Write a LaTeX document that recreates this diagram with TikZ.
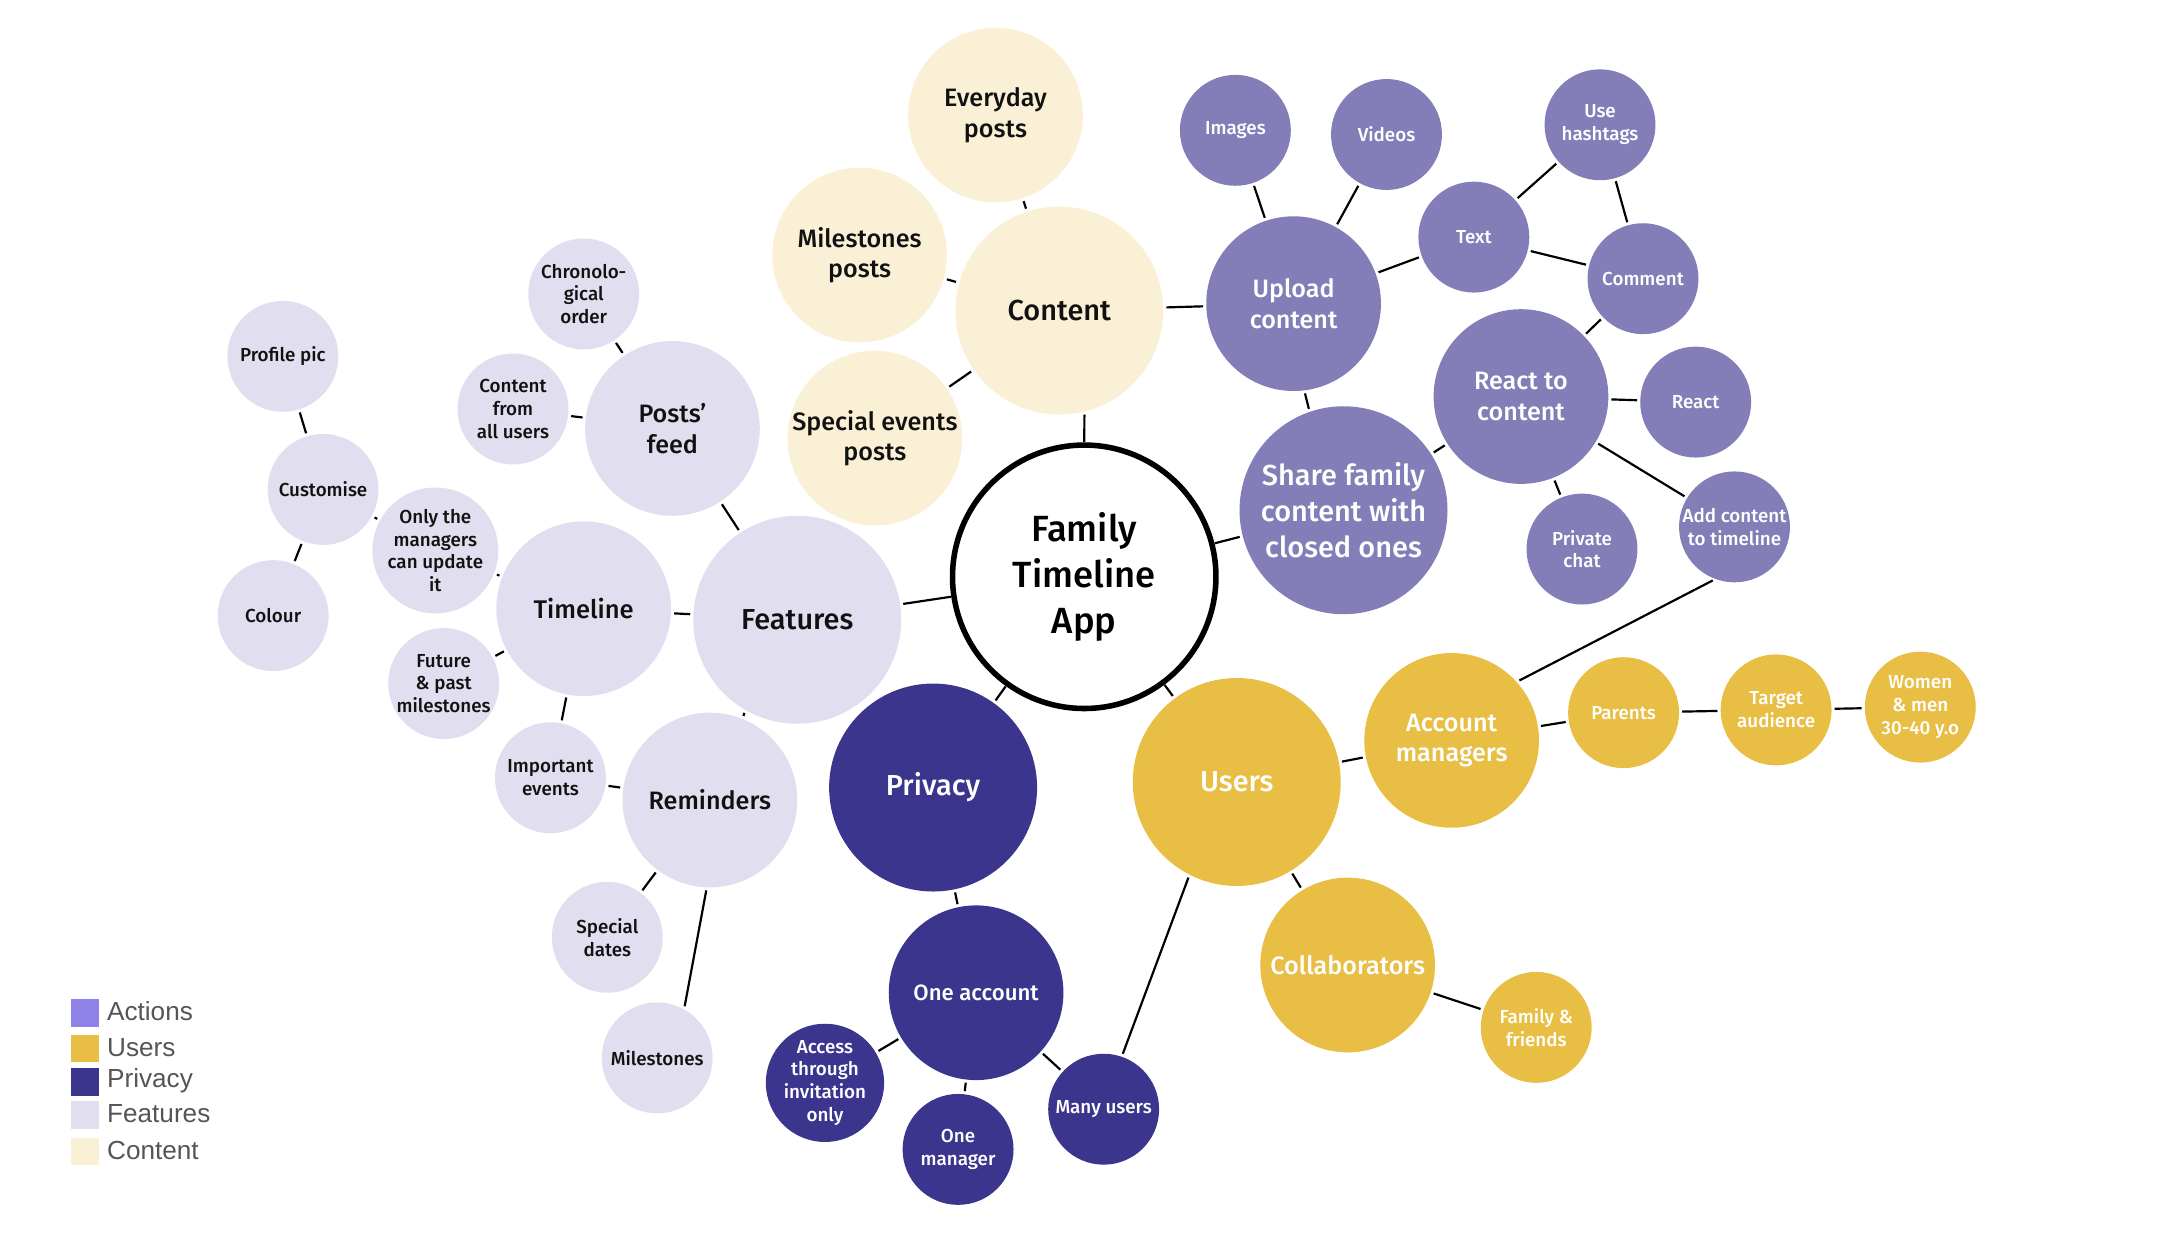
\documentclass[tikz,border=0pt]{standalone}
\usepackage{fontspec}
\setmainfont{Fira Sans}[UprightFont={* Medium}]
\newfontfamily\legfont{Liberation Sans}
\definecolor{actc}{HTML}{837EB7}
\definecolor{actleg}{HTML}{8F82E9}
\definecolor{usrc}{HTML}{E8BE45}
\definecolor{prvc}{HTML}{3C358D}
\definecolor{feac}{HTML}{E0DEEF}
\definecolor{conc}{HTML}{FAF0D5}
\definecolor{legtxt}{HTML}{555555}
\definecolor{darktxt}{HTML}{111111}
\tikzset{
  bub/.style={circle, inner sep=0pt, outer sep=0pt, align=center},
  rs/.style={bub, minimum size=56pt, font=\fontsize{9.5}{11.5}\selectfont},
  rm/.style={bub, minimum size=88.2pt, font=\fontsize{12.7}{15.4}\selectfont},
  rl/.style={bub, minimum size=105pt, font=\fontsize{14.6}{18.2}\selectfont},
  act/.style={fill=actc, text=white},
  usr/.style={fill=usrc, text=white},
  prv/.style={fill=prvc, text=white},
  fea/.style={fill=feac, text=darktxt},
  con/.style={fill=conc, text=darktxt},
  conn/.style={draw=black, line width=1.1pt, shorten <=1.6pt, shorten >=1.6pt},
  swatch/.style={rectangle, inner sep=0pt, outer sep=0pt, minimum size=14pt},
  legtext/.style={anchor=west, inner sep=0pt, font=\legfont\fontsize{13.2}{16}\selectfont, text=legtxt}
}
\begin{document}
\begin{tikzpicture}[x=0.7pt,y=-0.7pt]
\path[use as bounding box] (0,0) rectangle (1568,906);
% central
\node[bub, minimum size=133pt, draw=black, line width=2.8pt, fill=white, text=black,
  font=\fontsize{18.4}{23.2}\selectfont] (app) at (782,416) {Family\\Timeline\\App};
% content
\node[rl,con] (content) at (764,224) {Content};
\node[rm,con] (everyday) at (718,83) {Everyday\\posts};
\node[rm,con] (milposts) at (620,184) {Milestones\\posts};
\node[rm,con] (specev) at (631,316) {Special events\\posts};
% actions
\node[rm,act] (upload) at (933,219) {Upload\\content};
\node[rs,act] (images) at (891,94) {Images};
\node[rs,act] (videos) at (1000,97) {Videos};
\node[rs,act] (text) at (1063,171) {Text};
\node[rs,act] (hashtags) at (1154,90) {Use\\hashtags};
\node[rs,act] (comment) at (1185,201) {Comment};
\node[rm,act] (react2) at (1097,286) {React to\\content};
\node[rs,act] (react) at (1223,290) {React};
\node[rs,act] (pchat) at (1141,396) {Private\\chat};
\node[rs,act] (addtl) at (1251,380) {Add content\\to timeline};
\node[rl,act] (share) at (969,368) {Share family\\content with\\closed ones};
% features
\node[rl,fea] (features) at (575,447) {Features};
\node[rm,fea] (feed) at (485,309) {Posts’\\feed};
\node[rs,fea] (chrono) at (421,212) {Chronolo-\\gical\\order};
\node[rs,fea] (allusers) at (370,295) {Content\\from\\all users};
\node[rm,fea,font=\fontsize{12.9}{15.4}\selectfont] (timeline) at (421,439) {Timeline};
\node[rs,fea] (onlymgr) at (314,397) {Only the\\managers\\can update\\it};
\node[rs,fea] (customise) at (233,353) {Customise};
\node[rs,fea] (profile) at (204,257) {Profile pic};
\node[rs,fea] (colour) at (197,444) {Colour};
\node[rs,fea] (future) at (320,493) {Future\\\& past\\milestones};
\node[rs,fea] (impev) at (397,561) {Important\\events};
\node[rm,fea] (reminders) at (512,577) {Reminders};
\node[rs,fea] (specdates) at (438,676) {Special\\dates};
\node[rs,fea] (milestones) at (474,763) {Milestones};
% privacy
\node[rl,prv] (privacy) at (673,568) {Privacy};
\node[rm,prv,font=\fontsize{11.2}{13.5}\selectfont] (oneacc) at (704,716) {One account};
\node[rs,prv] (access) at (595,781) {Access\\through\\invitation\\only};
\node[rs,prv] (onemgr) at (691,829) {One\\manager};
\node[rs,prv] (manyusers) at (796,800) {Many users};
% users
\node[rl,usr] (users) at (892,564) {Users};
\node[rm,usr] (accmgr) at (1047,534) {Account\\managers};
\node[rs,usr] (parents) at (1171,514) {Parents};
\node[rs,usr] (target) at (1281,512) {Target\\audience};
\node[rs,usr] (women) at (1385,510) {Women\\\& men\\30-40 y.o};
\node[rm,usr] (collab) at (972,696) {Collaborators};
\node[rs,usr] (famfr) at (1108,741) {Family \&\\friends};
% connectors
\draw[conn] (app.north) -- (content.-76);
\draw[conn] (app) -- (features);
\draw[conn] (app) -- (share);
\draw[conn] (app) -- (privacy);
\draw[conn] (app) -- (users);
\draw[conn] (content) -- (everyday);
\draw[conn] (content) -- (milposts);
\draw[conn] (content) -- (specev);
\draw[conn] (content) -- (upload);
\draw[conn] (upload) -- (images);
\draw[conn] (upload) -- (videos);
\draw[conn] (upload) -- (text);
\draw[conn] (upload.-83) -- (share.109);
\draw[conn] (text) -- (hashtags);
\draw[conn] (text) -- (comment);
\draw[conn] (hashtags) -- (comment);
\draw[conn] (comment) -- (react2);
\draw[conn] (react2) -- (react);
\draw[conn] (react2) -- (pchat);
\draw[conn] (react2) -- (addtl);
\draw[conn] (react2) -- (share);
\draw[conn] (addtl.-110) -- (accmgr.42);
\draw[conn] (features) -- (feed);
\draw[conn] (features) -- (timeline);
\draw[conn] (features.-120) -- (reminders.68);
\draw[conn] (feed) -- (chrono);
\draw[conn] (feed) -- (allusers);
\draw[conn] (timeline) -- (onlymgr);
\draw[conn] (onlymgr) -- (customise);
\draw[conn] (customise) -- (profile);
\draw[conn] (customise) -- (colour);
\draw[conn] (timeline) -- (future);
\draw[conn] (timeline) -- (impev);
\draw[conn] (reminders) -- (impev);
\draw[conn] (reminders) -- (specdates);
\draw[conn] (reminders.-92) -- (milestones.61);
\draw[conn] (privacy) -- (oneacc);
\draw[conn] (oneacc) -- (access);
\draw[conn] (oneacc) -- (onemgr);
\draw[conn] (oneacc) -- (manyusers);
\draw[conn] (manyusers.71) -- (users.-117);
\draw[conn] (users) -- (accmgr);
\draw[conn] (users) -- (collab);
\draw[conn] (accmgr) -- (parents);
\draw[conn] (parents) -- (target);
\draw[conn] (target) -- (women);
\draw[conn] (collab) -- (famfr);
% legend
\node[swatch, fill=actleg] (sw1) at (61.3,730.6) {};
\node[swatch, fill=usrc] (sw2) at (61.3,756.3) {};
\node[swatch, fill=prvc] (sw3) at (61.3,780.3) {};
\node[swatch, fill=feac] (sw4) at (61.3,804.3) {};
\node[swatch, fill=conc] (sw5) at (61.3,830.5) {};
\node[legtext] (lg1) at (77,729.6) {Actions};
\node[legtext] (lg2) at (77,755.3) {Users};
\node[legtext] (lg3) at (77,779.3) {Privacy};
\node[legtext] (lg4) at (77,803.3) {Features};
\node[legtext] (lg5) at (77,829.5) {Content};
\end{tikzpicture}
\end{document}
